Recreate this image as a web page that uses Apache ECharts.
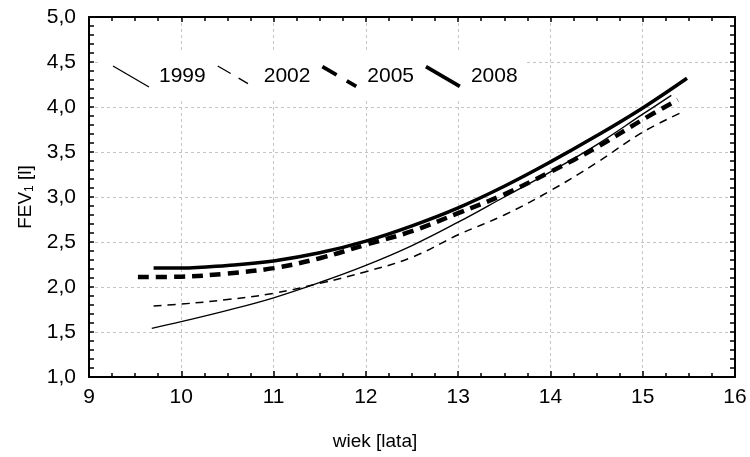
<!DOCTYPE html>
<html>
<head>
<meta charset="utf-8">
<script src="https://cdn.jsdelivr.net/npm/echarts@6/dist/echarts.min.js"></script>
<style>
  html, body { margin: 0; padding: 0; background: #fff; }
  #chart { width: 750px; height: 457px; }
</style>
</head>
<body>
<div id="chart"></div>
<script>
// ---- data ----
const years = ['1999', '2002', '2005', '2008'];
const age1999 = [9.68, 10, 10.5, 11, 11.5, 12, 12.5, 13, 13.5, 14, 14.5, 15, 15.31];
const fev1999 = [1.54, 1.615, 1.74, 1.88, 2.05, 2.24, 2.46, 2.72, 3.00, 3.28, 3.58, 3.92, 4.13];
const age2002 = [9.70, 10, 10.5, 11, 11.5, 12, 12.5, 13, 13.5, 14, 14.5, 15, 15.42];
const fev2002 = [1.79, 1.81, 1.86, 1.93, 2.04, 2.17, 2.33, 2.58, 2.80, 3.07, 3.38, 3.72, 3.94];
const age2005 = [9.53, 10, 10.5, 11, 11.5, 12, 12.5, 13, 13.5, 14, 14.5, 15, 15.38];
const fev2005 = [2.11, 2.115, 2.15, 2.21, 2.32, 2.47, 2.62, 2.82, 3.03, 3.28, 3.55, 3.86, 4.08];
const age2008 = [9.70, 10, 10.5, 11, 11.5, 12, 12.5, 13, 13.5, 14, 14.5, 15, 15.48];
const fev2008 = [2.21, 2.21, 2.24, 2.29, 2.38, 2.51, 2.68, 2.88, 3.12, 3.39, 3.68, 3.99, 4.32];
const xTicks = [9, 10, 11, 12, 13, 14, 15, 16];
const yTicks = [1.0, 1.5, 2.0, 2.5, 3.0, 3.5, 4.0, 4.5, 5.0];
const xTitle = 'wiek [lata]';
const yTitle = 'FEV{sub|1} [l]';

function pairs(xs, ys) { return xs.map((x, i) => [x, ys[i]]); }

// legend icon: diagonal stroke pieces drawn as thin parallelograms
function iconPath(segs, w) {
  const L = 36, H = 21;
  const len = Math.sqrt(L * L + H * H);
  const nx = -H / len * w / 2, ny = L / len * w / 2;
  let p = 'path://M-1,-1 L-1,-1 M37,22 L37,22 ';
  segs.forEach(([t0, t1]) => {
    const x0 = t0 * L, y0 = t0 * H, x1 = t1 * L, y1 = t1 * H;
    p += `M${(x0 + nx).toFixed(2)},${(y0 + ny).toFixed(2)} L${(x1 + nx).toFixed(2)},${(y1 + ny).toFixed(2)} ` +
         `L${(x1 - nx).toFixed(2)},${(y1 - ny).toFixed(2)} L${(x0 - nx).toFixed(2)},${(y0 - ny).toFixed(2)} Z `;
  });
  return p;
}

const FONT = 'Liberation Sans, Arial, sans-serif';
const chart = echarts.init(document.getElementById('chart'), null, { renderer: 'canvas' });

const baseX = {
  type: 'value', min: xTicks[0], max: xTicks[xTicks.length - 1], interval: 1,
};
const baseY = {
  type: 'value', min: yTicks[0], max: yTicks[yTicks.length - 1], interval: 0.5,
};

chart.setOption({
  animation: false,
  backgroundColor: '#ffffff',
  grid: { left: 89, right: 15, top: 17, bottom: 80, containLabel: false },
  legend: {
    left: 100, top: 52,
    padding: [13, 9, 13, 12],
    backgroundColor: '#ffffff',
    itemWidth: 38, itemHeight: 23, itemGap: 11,
    itemStyle: { color: '#000', borderWidth: 0 },
    textStyle: { fontFamily: FONT, fontSize: 21, color: '#000', padding: [0, 0, 0, 4] },
    data: [
      { name: years[0], icon: iconPath([[0, 1]], 1.3) },
      { name: years[1], icon: iconPath([[0, 0.36], [0.58, 0.84]], 1.3) },
      { name: years[2], icon: iconPath([[0, 0.42], [0.72, 1]], 4) },
      { name: years[3], icon: iconPath([[0, 1]], 4) }
    ]
  },
  xAxis: [
    Object.assign({}, baseX, {
      position: 'bottom',
      name: xTitle, nameLocation: 'middle', nameGap: 55,
      nameTextStyle: { fontFamily: FONT, fontSize: 19, color: '#000', padding: [0, 74, 0, 0] },
      axisLine: { show: true, onZero: false, lineStyle: { color: '#000', width: 2 } },
      axisTick: { show: true, inside: true, length: 6, lineStyle: { color: '#000', width: 1.5 } },
      minorTick: { show: true, splitNumber: 4, length: 4, lineStyle: { color: '#000', width: 1.5 } },
      axisLabel: { fontFamily: FONT, fontSize: 21, color: '#000', margin: 10 },
      splitLine: { show: true, lineStyle: { color: '#c4c4c4', width: 1, type: [3, 3] } }
    }),
    Object.assign({}, baseX, {
      position: 'top',
      axisLine: { show: true, onZero: false, lineStyle: { color: '#000', width: 2 } },
      axisTick: { show: true, inside: true, length: 5, lineStyle: { color: '#000', width: 1.5 } },
      minorTick: { show: true, splitNumber: 4, length: 4, lineStyle: { color: '#000', width: 1.5 } },
      axisLabel: { show: false },
      splitLine: { show: false }
    })
  ],
  yAxis: [
    Object.assign({}, baseY, {
      position: 'left',
      name: yTitle, nameLocation: 'middle', nameGap: 48, nameRotate: 90,
      nameTextStyle: {
        fontFamily: FONT, fontSize: 19, color: '#000',
        rich: { sub: { fontFamily: FONT, fontSize: 12, color: '#000', verticalAlign: 'bottom', padding: [8, 0, 0, 0] } }
      },
      axisLine: { show: true, onZero: false, lineStyle: { color: '#000', width: 2 } },
      axisTick: { show: true, inside: true, length: 5, lineStyle: { color: '#000', width: 1.5 } },
      minorTick: { show: true, splitNumber: 5, length: 5, lineStyle: { color: '#000', width: 1.5 } },
      axisLabel: {
        fontFamily: FONT, fontSize: 21, color: '#000', margin: 13,
        formatter: v => v.toFixed(1).replace('.', ',')
      },
      splitLine: { show: true, lineStyle: { color: '#c4c4c4', width: 1, type: [3, 3] } }
    }),
    Object.assign({}, baseY, {
      position: 'right',
      axisLine: { show: true, onZero: false, lineStyle: { color: '#000', width: 2 } },
      axisTick: { show: true, inside: true, length: 5, lineStyle: { color: '#000', width: 1.5 } },
      minorTick: { show: true, splitNumber: 5, length: 5, lineStyle: { color: '#000', width: 1.5 } },
      axisLabel: { show: false },
      splitLine: { show: false }
    })
  ],
  series: [
    {
      name: years[0], type: 'line', data: pairs(age1999, fev1999), smooth: 0.4,
      showSymbol: false, symbol: 'none', color: '#000',
      lineStyle: { color: '#000', width: 1.4, type: 'solid' }
    },
    {
      name: years[1], type: 'line', data: pairs(age2002, fev2002), smooth: 0.4,
      showSymbol: false, symbol: 'none', color: '#000',
      lineStyle: { color: '#000', width: 1.5, type: [8, 6] }
    },
    {
      name: years[2], type: 'line', data: pairs(age2005, fev2005), smooth: 0.4,
      showSymbol: false, symbol: 'none', color: '#000',
      lineStyle: { color: '#000', width: 4.5, type: [11, 7] }
    },
    {
      name: years[3], type: 'line', data: pairs(age2008, fev2008), smooth: 0.4,
      showSymbol: false, symbol: 'none', color: '#000',
      lineStyle: { color: '#000', width: 3.5, type: 'solid' }
    }
  ]
});
</script>
</body>
</html>
